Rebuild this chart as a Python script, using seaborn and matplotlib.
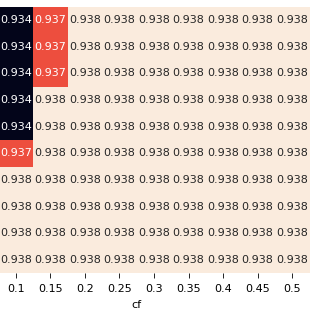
import numpy as np
import pandas as pd
import matplotlib
matplotlib.use("Agg")
import matplotlib.pyplot as plt
import seaborn as sns

cf_labels = ["0.1", "0.15", "0.2", "0.25", "0.3", "0.35", "0.4", "0.45", "0.5"]
row_labels = [str(i) for i in range(10)]

row0 = [0.934, 0.93652, 0.938, 0.938, 0.938, 0.938, 0.938, 0.938, 0.938]
row1 = [0.934, 0.93652, 0.938, 0.938, 0.938, 0.938, 0.938, 0.938, 0.938]
row2 = [0.934, 0.93652, 0.938, 0.938, 0.938, 0.938, 0.938, 0.938, 0.938]
row3 = [0.934, 0.938, 0.938, 0.938, 0.938, 0.938, 0.938, 0.938, 0.938]
row4 = [0.934, 0.938, 0.938, 0.938, 0.938, 0.938, 0.938, 0.938, 0.938]
row5 = [0.93652, 0.938, 0.938, 0.938, 0.938, 0.938, 0.938, 0.938, 0.938]
row6 = [0.938, 0.938, 0.938, 0.938, 0.938, 0.938, 0.938, 0.938, 0.938]
row7 = [0.938, 0.938, 0.938, 0.938, 0.938, 0.938, 0.938, 0.938, 0.938]
row8 = [0.938, 0.938, 0.938, 0.938, 0.938, 0.938, 0.938, 0.938, 0.938]
row9 = [0.938, 0.938, 0.938, 0.938, 0.938, 0.938, 0.938, 0.938, 0.938]

df = pd.DataFrame([row0, row1, row2, row3, row4, row5, row6, row7, row8, row9],
                  index=row_labels, columns=cf_labels)

fig = plt.figure(figsize=(3.2, 3.2), dpi=100)
ax = fig.add_axes([-1.5 / 320, 1 - 273 / 320, 311 / 320, (273 - 7) / 320])
sns.heatmap(df, ax=ax, cmap="rocket", annot=True, fmt=".3f", cbar=False,
            annot_kws={"size": 8})
ax.set_yticks([])
ax.set_ylabel("")
ax.set_xlabel("cf", fontsize=8)
ax.xaxis.set_label_coords(0.445, -0.103)
ax.tick_params(axis="x", labelsize=8, length=3.5, width=0.6, rotation=0, pad=4.5)
fig.savefig("out.png", dpi=100)
